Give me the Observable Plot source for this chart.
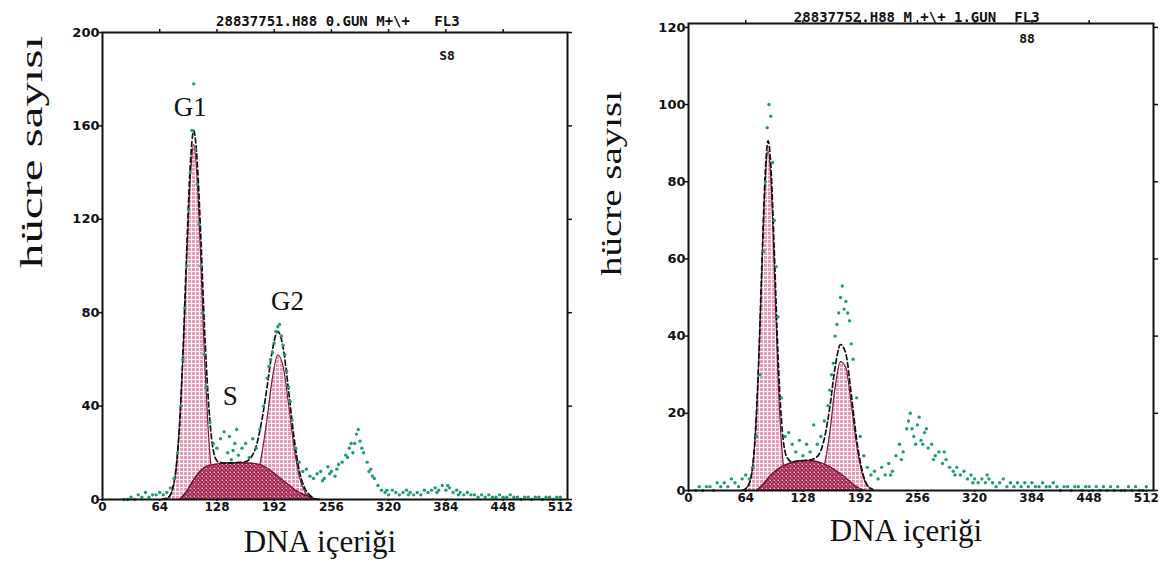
<!DOCTYPE html>
<html>
<head>
<meta charset="utf-8">
<script src="https://cdn.jsdelivr.net/npm/d3@7"></script>
<script src="https://cdn.jsdelivr.net/npm/@observablehq/plot@0.6"></script>
<style>
  body { margin: 0; background: #fff; }
  #wrap { display: flex; width: 1161px; height: 571px; overflow: hidden; }
</style>
</head>
<body>
<div id="wrap"></div>
<script>
// ---------- shared tick labels ----------
const xTicks = [0, 64, 128, 192, 256, 320, 384, 448, 512];
const xTopTicks = [64, 128, 192, 256, 320, 384, 448];

// ---------- LEFT panel (0. gün) ----------
const titleL = "28837751.H88 0.GUN M+\\+";
const yTicksL = [0, 40, 80, 120, 160, 200];
const g1X_L = [70, 74, 78, 82, 86, 90, 94, 98, 102, 106, 110, 114, 118, 122, 126, 130, 134];
const g1Y_L = [0, 1, 4, 12, 31, 61, 101, 136, 152, 136, 101, 61, 31, 12, 4, 1, 0];
const sX_L = [86, 94, 102, 110, 118, 128, 140, 152, 164, 176, 186, 196, 206, 216, 226, 236, 242];
const sY_L = [0, 3.5, 8.5, 12.5, 14.5, 15.2, 15.6, 15.8, 15.6, 15, 13, 10, 7, 4, 2, 0.5, 0];
const g2X_L = [160, 166, 172, 178, 184, 190, 196, 202, 208, 214, 220, 226, 232, 238];
const g2Y_L = [0.6, 2.5, 8, 19, 34.5, 52, 62, 57, 41, 23, 10, 3.4, 1, 0];
const fitX_L = [66, 74, 78, 82, 86, 90, 94, 98, 102, 106, 110, 114, 118, 122, 126, 130, 140, 150, 160, 166, 172, 178, 184, 190, 196, 202, 208, 214, 220, 226, 232, 238, 246];
const fitY_L = [0, 1, 4, 12.5, 31, 63, 105, 142, 158, 144, 112, 74, 45, 26, 18, 16, 15.6, 15.8, 16.2, 18, 23, 33.5, 48, 64, 72, 65, 47, 27, 12.5, 5, 1.8, 0.3, 0];
const dotsL = [[24,0],[28,0],[32,1],[36,0],[40,2],[44,1],[48,3],[52,1],[56,2],[60,2],[64,3],[68,2],[72,3],[76,5],[80,9],[84,20],[88,40],[92,82],[96,124],[100,158],[102,178],[104,150],[108,118],[112,80],[116,48],[120,33],[124,24],[128,22],[132,26],[136,29],[140,20],[144,17],[148,24],[152,19],[156,22],[160,24],[164,18],[168,26],[172,22],[176,30],[180,40],[184,52],[188,60],[192,67],[196,74],[200,70],[204,62],[208,48],[212,34],[216,22],[220,16],[224,12],[228,13],[232,10],[236,9],[240,11],[244,12],[248,9],[252,14],[256,12],[260,10],[264,15],[268,16],[272,19],[276,22],[280,20],[284,28],[288,25],[292,20],[296,16],[300,13],[304,9],[308,6],[312,4],[316,3],[320,2],[324,4],[328,3],[332,2],[336,3],[340,4],[344,3],[348,2],[352,3],[356,2],[360,4],[364,3],[368,4],[372,5],[376,4],[380,6],[384,4],[388,5],[392,3],[396,4],[400,3],[404,2],[408,3],[412,2],[416,2],[420,1],[424,2],[428,1],[432,2],[436,1],[440,1],[444,2],[448,1],[452,1],[456,2],[460,1],[464,1],[468,0],[472,1],[476,1],[480,0],[484,1],[488,1],[492,0],[496,1],[500,1],[504,0],[508,1],[512,1],
  [90,60],[94,100],[98,140],[106,135],[110,100],[114,62],[142,27],[146,21],[150,30],[186,57],[190,63],[194,72],[198,75],[202,66],[206,55],[210,42],[274,18],[278,24],[282,24],[286,30],[290,22],[246,8],[254,11],[262,13],[298,12],[302,10],[318,4],[342,2],[374,3],[386,6],[398,2]];
const phaseLabelsL = [{label: "G1", x: 98, y: 168}, {label: "G2", x: 207, y: 85}, {label: "S", x: 143, y: 44}];

// ---------- RIGHT panel (1. gün) ----------
const titleR = "28837752.H88 M +\\+ 1.GUN";
const yTicksR = [0, 20, 40, 60, 80, 100, 120];
const g1X_R = [62, 66, 70, 74, 78, 82, 86, 89, 92, 96, 100, 104, 108, 112, 116];
const g1Y_R = [0, 1, 3.5, 12, 30, 57, 81, 88, 81, 57, 30, 12, 3.5, 1, 0];
const sX_R = [76, 84, 92, 100, 108, 116, 124, 132, 140, 148, 156, 164, 172, 180, 188, 198];
const sY_R = [0, 1.8, 4, 5.6, 6.6, 7.3, 7.7, 7.8, 7.7, 7.2, 6.4, 5.3, 4, 2.5, 1, 0];
const g2X_R = [140, 146, 152, 158, 164, 170, 176, 182, 188, 194, 200, 206];
const g2Y_R = [0.5, 2, 6.5, 15, 26.7, 33.4, 31.8, 22.4, 11.8, 4.6, 1.3, 0.3];
const fitX_R = [60, 66, 70, 74, 78, 82, 86, 89, 92, 96, 100, 104, 108, 112, 116, 124, 132, 140, 146, 152, 158, 164, 170, 176, 182, 188, 194, 200, 206];
const fitY_R = [0, 1, 3.5, 12, 30.5, 58, 83, 90.6, 84.5, 61.5, 35.5, 18, 10, 8, 7.4, 7.7, 7.8, 8.2, 9.4, 13.5, 21.5, 32, 37.8, 35.4, 24.9, 13.3, 5.3, 1.3, 0.3];
const dotsR = [[8,0],[12,1],[16,0],[20,1],[24,1],[28,0],[32,2],[36,1],[40,2],[44,1],[48,3],[52,2],[56,1],[60,3],[64,4],[68,3],[72,6],[76,14],[80,30],[84,62],[88,94],[90,100],[92,97],[96,70],[100,45],[104,24],[108,14],[112,15],[116,12],[120,10],[124,13],[128,9],[132,12],[136,10],[140,17],[144,12],[148,14],[152,18],[156,22],[160,30],[164,40],[168,46],[172,53],[176,49],[180,44],[184,34],[188,24],[192,14],[196,9],[200,6],[204,4],[208,5],[212,3],[216,6],[220,4],[224,7],[228,5],[232,9],[236,12],[240,10],[244,16],[248,20],[252,14],[256,17],[260,13],[264,15],[268,11],[272,12],[276,9],[280,10],[284,7],[288,8],[292,6],[296,5],[300,6],[304,4],[308,5],[312,3],[316,4],[320,3],[324,2],[328,3],[332,2],[336,3],[340,2],[344,1],[348,2],[352,3],[356,1],[360,2],[364,1],[368,2],[372,1],[376,2],[380,1],[384,2],[388,1],[392,1],[396,2],[400,1],[404,1],[408,2],[412,1],[416,0],[420,1],[424,1],[428,0],[432,1],[436,1],[440,0],[444,1],[448,1],[452,0],[456,1],[460,0],[464,1],[468,0],[472,1],[476,0],[480,1],[484,0],[488,0],[492,1],[496,0],[500,1],[504,0],[508,0],[512,1],
  [86,80],[94,85],[98,58],[158,26],[162,33],[166,43],[170,50],[174,47],[178,46],[182,38],[246,18],[250,16],[258,19],[262,12],[226,4],[238,8],[254,12],[266,16],[274,8],[286,10],[298,4],[318,2],[334,4]];

const yTitle = "hücre sayısı";
const xTitle = "DNA içeriği";

// ---------- builder ----------
function panel(p) {
  const pts = (xs, ys) => xs.map((x, i) => ({x, y: ys[i]}));
  const g1 = pts(p.g1X, p.g1Y), s = pts(p.sX, p.sY), g2 = pts(p.g2X, p.g2Y), fit = pts(p.fitX, p.fitY);
  const dots = p.dots.map(([x, y]) => ({x, y}));
  const id = p.id;
  const defs = () => {
    const d = d3.create("svg:defs");
    const a = d.append("pattern").attr("id", `grid-${id}`).attr("width", 4).attr("height", 4).attr("patternUnits", "userSpaceOnUse");
    a.append("rect").attr("width", 4).attr("height", 4).attr("fill", "#e99ab4");
    a.append("path").attr("d", "M0 3.5H4M3.5 0V4").attr("stroke", "#fff").attr("stroke-width", 1);
    const b = d.append("pattern").attr("id", `hatch-${id}`).attr("width", 4).attr("height", 4).attr("patternUnits", "userSpaceOnUse");
    b.append("rect").attr("width", 4).attr("height", 4).attr("fill", "#cc4a78");
    b.append("path").attr("d", "M0 0L4 4M4 0L0 4").attr("stroke", "#5a1a30").attr("stroke-width", 0.5);
    b.append("rect").attr("x", 2).attr("y", 0).attr("width", 1).attr("height", 1).attr("fill", "#f6cdd9");
    return d.node();
  };
  const serif = {fontFamily: "'Liberation Serif', 'Times New Roman', serif", fontWeight: "normal", fill: "#111"};
  const mono = {fontFamily: "'DejaVu Sans Mono', monospace", fontWeight: "bold", fill: "#111"};
  const sans = {fontFamily: "'DejaVu Sans', sans-serif", fontWeight: "bold", fill: "#111"};
  const svg = Plot.plot({
    width: p.width, height: 571,
    marginLeft: p.ml, marginRight: p.mr, marginTop: p.mt, marginBottom: p.mb,
    x: {domain: p.xDomain, label: null},
    y: {domain: p.yDomain, label: null},
    style: {fontFamily: "'DejaVu Sans', sans-serif", fontSize: "12px", fontWeight: "bold", background: "#fff", color: "#111"},
    marks: [
      defs,
      Plot.areaY(g1, {x: "x", y: "y", fill: `url(#grid-${id})`, curve: "monotone-x"}),
      Plot.lineY(g1, {x: "x", y: "y", stroke: "#7d1836", strokeWidth: 1.2, curve: "monotone-x"}),
      Plot.areaY(g2, {x: "x", y: "y", fill: `url(#grid-${id})`, curve: "monotone-x"}),
      Plot.lineY(g2, {x: "x", y: "y", stroke: "#7d1836", strokeWidth: 1.2, curve: "monotone-x"}),
      Plot.areaY(s, {x: "x", y: "y", fill: `url(#hatch-${id})`, curve: "monotone-x"}),
      Plot.lineY(s, {x: "x", y: "y", stroke: "#6a1030", strokeWidth: 1.2, curve: "monotone-x"}),
      Plot.lineY(fit, {x: "x", y: "y", stroke: "#111", strokeWidth: 1.7, strokeDasharray: "5,3", curve: "monotone-x"}),
      Plot.dot(dots, {x: "x", y: "y", r: 1.7, fill: "#1f9e6c", stroke: "none"}),
      Plot.frame({stroke: "#111", strokeWidth: 2}),
      Plot.axisY({ticks: p.yTicks, tickSize: 3, tickPadding: 0, label: null, stroke: "#111", strokeWidth: 1.5, ...sans, fontSize: 13}),
      Plot.axisY({anchor: "right", ticks: p.yTicks, tickSize: 4, tickFormat: () => "", label: null, stroke: "#111", strokeWidth: 1.5}),
      Plot.axisX({anchor: "bottom", ticks: xTicks, tickSize: 2, tickPadding: 1, label: null, stroke: "#111", strokeWidth: 1.5, ...sans, fontSize: 12}),
      Plot.axisX({anchor: "top", ticks: xTopTicks, tickSize: 4, tickFormat: () => "", label: null, stroke: "#111", strokeWidth: 1.5}),
      Plot.text(p.labels, {x: "x", y: "y", text: "label", fontSize: 27, ...serif}),
      Plot.text([p.title], {text: d => d, frameAnchor: "top", dx: p.titleDx, dy: p.titleDy, fontSize: 14, ...mono}),
      Plot.text(["FL3"], {text: d => d, frameAnchor: "top", dx: p.flDx, dy: p.titleDy, fontSize: 14, ...mono}),
      Plot.text([p.tag], {text: d => d, frameAnchor: "top", dx: p.flDx, dy: p.tagDy, fontSize: 13, ...mono}),
      Plot.text([yTitle], {text: d => d, frameAnchor: "left", rotate: -90, dx: p.yTitleDx, dy: p.yTitleDy, fontSize: p.yTitleSize, ...serif}),
      Plot.text([xTitle], {text: d => d, frameAnchor: "bottom", dx: p.xTitleDx, dy: p.xTitleDy, fontSize: 31, ...serif})
    ]
  });
  // stretch the rotated axis title like the scanned original
  d3.select(svg).selectAll("text").filter(function () { return this.textContent === yTitle; })
    .attr("textLength", p.yTitleLen).attr("lengthAdjust", "spacingAndGlyphs");
  return svg;
}

const wrap = document.getElementById("wrap");
wrap.append(panel({
  id: "L", width: 580, ml: 102, mr: 13, mt: 32, mb: 72,
  xDomain: [0, 520], yDomain: [0, 200], yTicks: yTicksL,
  g1X: g1X_L, g1Y: g1Y_L, sX: sX_L, sY: sY_L, g2X: g2X_L, g2Y: g2Y_L, fitX: fitX_L, fitY: fitY_L,
  dots: dotsL, labels: phaseLabelsL, title: titleL, tag: "S8",
  titleDx: -22, titleDy: -16, flDx: 112, tagDy: 18,
  yTitleDx: -71, yTitleDy: 2, yTitleSize: 32, yTitleLen: 232, xTitleDx: -15, xTitleDy: 52
}));
wrap.append(panel({
  id: "R", width: 581, ml: 108, mr: 8, mt: 23, mb: 81,
  xDomain: [0, 520], yDomain: [0, 121], yTicks: yTicksR,
  g1X: g1X_R, g1Y: g1Y_R, sX: sX_R, sY: sY_R, g2X: g2X_R, g2Y: g2Y_R, fitX: fitX_R, fitY: fitY_R,
  dots: dotsR, labels: [], title: titleR, tag: "88",
  titleDx: -26, titleDy: -11, flDx: 106, tagDy: 10,
  yTitleDx: -77, yTitleDy: 19, yTitleSize: 30, yTitleLen: 185, xTitleDx: -15, xTitleDy: 50
}));
</script>
</body>
</html>
